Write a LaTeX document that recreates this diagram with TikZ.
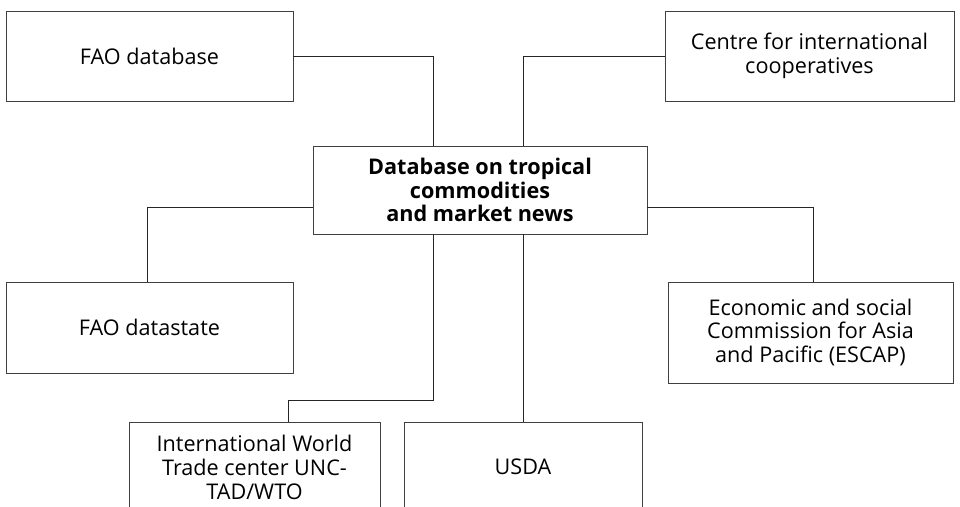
\documentclass[tikz,border=0pt]{standalone}
\usepackage{fontspec}
\setmainfont{Open Sans}
\usepackage{tikz}

\begin{document}
\begin{tikzpicture}[
  box/.style={rectangle, draw=black!75, line width=0.5pt, align=center,
    minimum height=1.8cm, inner sep=2pt,
    font=\fontsize{12.3}{13.6}\selectfont},
  link/.style={draw=black!85, line width=0.5pt},
]
\useasboundingbox (0,0) rectangle (19.2,10.14);
% Centre
\node[box, minimum width=6.68cm, minimum height=1.76cm,
  font=\fontsize{12.3}{13.6}\selectfont\bfseries] (hub) at (9.60, 6.34)
  {Database on tropical\\commodities\\and market news};

% Sources
\node[box, minimum width=5.74cm] (fao) at (2.99, 9.02) {FAO database};
\node[box, minimum width=5.78cm] (cic) at (16.19, 9.02) {Centre for international\\cooperatives};
\node[box, minimum width=5.74cm, minimum height=1.82cm] (stat) at (2.99, 3.59) {FAO datastate};
\node[box, minimum width=5.70cm, minimum height=2.02cm] (escap) at (16.21, 3.49)
  {Economic and social\\Commission for Asia\\and Pacific (ESCAP)};
\node[box, minimum width=5.02cm] (itc) at (5.09, 0.80)
  {International World\\Trade center UNC-\\TAD/WTO};
\node[box, minimum width=4.76cm] (usda) at (10.46, 0.80) {USDA};

% Links
\coordinate (drop) at (5.76, 2.14);
\draw[link] (fao.east) -| ([xshift=-0.94cm]hub.north);
\draw[link] (cic.west) -| ([xshift=0.86cm]hub.north);
\draw[link] ([yshift=-0.34cm]hub.west) -| ([xshift=-0.05cm]stat.north);
\draw[link] ([yshift=-0.34cm]hub.east) -| ([xshift=0.05cm]escap.north);
\draw[link] ([xshift=-0.94cm]hub.south) |- (drop) -- (drop |- itc.north);
\draw[link] (usda.north |- hub.south) -- (usda.north);
\end{tikzpicture}
\end{document}
